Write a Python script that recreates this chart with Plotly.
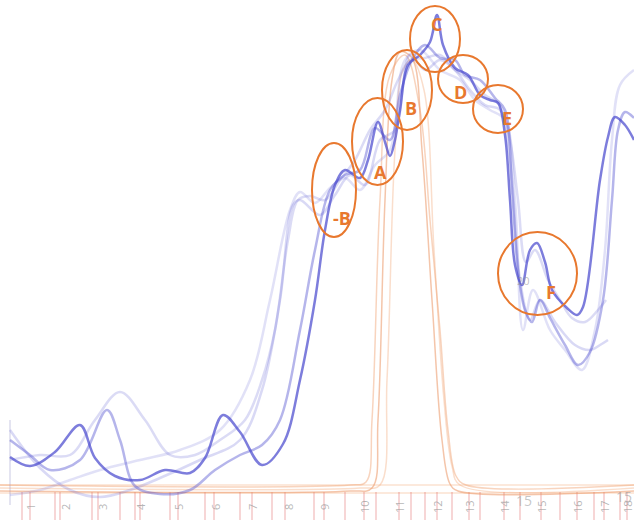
import plotly.graph_objects as go

# ---- data (x = retention position, y = signal depth from top; axis reversed) ----
dark_x = [10,30,55,80,95,115,140,165,190,205,223,240,262,283,300,315,325,335,345,360,368,378,385,390,395,400,408,420,430,437,443,455,468,480,490,498,505,510,515,522,530,537,545,552,567,577,583,600,608,615,625,634]
dark_y = [457,466,452,425,458,476,480,470,473,458,415,432,465,444,380,300,230,185,170,178,160,122,142,156,140,110,65,55,42,15,45,68,75,95,100,103,135,200,265,285,250,243,262,290,308,315,307,180,137,117,125,140]

med_x = [10,30,50,80,107,120,135,160,190,215,240,262,280,300,315,330,345,360,375,390,400,412,425,440,455,465,480,495,505,512,518,525,532,540,550,565,578,590,603,612,618,625,634]
med_y = [440,455,470,460,410,440,486,494,490,470,455,445,420,330,250,190,175,170,128,140,95,60,45,58,60,75,80,98,110,190,270,310,322,300,318,345,365,352,300,200,130,112,118]

l1_x = [10,40,70,100,140,180,220,250,270,290,300,315,330,345,360,375,390,405,420,440,460,475,490,505,515,523,533,550,565,582,595,605,612,620,634]
l1_y = [495,490,480,470,460,450,430,380,300,210,192,203,188,178,190,165,150,60,50,70,80,100,110,120,200,330,290,330,350,370,330,250,140,85,70]

l2_x = [10,40,70,100,130,160,200,240,262,280,293,300,320,335,350,365,380,395,410,425,440,455,470,485,500,510,520,530,540,555,575,590,600,608]
l2_y = [430,468,490,497,490,478,460,440,390,300,205,200,215,195,175,185,140,130,55,70,60,70,90,105,110,160,280,320,300,322,345,350,345,340]

l3_x = [10,40,70,95,120,145,170,195,220,245,262,275,288,298,310,325,340,355,370,385,398,410,425,440,455,470,485,500,510,518,526,535,548,560,572,585,598,606]
l3_y = [460,455,455,420,392,420,455,455,440,420,380,330,240,200,196,200,180,160,130,110,80,60,58,55,70,80,95,105,140,200,262,250,280,300,318,322,310,300]

or1_x = [0,350,372,378,385,392,400,412,422,432,442,450,458,634]
or1_y = [491,491,488,420,200,80,52,58,150,300,440,484,491,491]
or2_x = [0,350,366,372,380,390,405,420,430,440,448,456,466,634]
or2_y = [485,485,482,420,200,75,55,110,220,330,430,476,485,485]
or3_x = [0,360,380,387,395,403,412,424,434,444,452,460,634]
or3_y = [488,488,485,380,150,70,60,90,250,400,466,485,488]

tick_x = [22,30,55,60,92,98,120,135,140,170,178,205,214,240,252,272,285,314,324,345,364,376,399,411,425,437,452,469,480,504,520,541,560,577,594,604,620,627]
tick_labels = ["1","2","3","4","5","6","7","8","9","10","11","12","13","14","15","16","17","18"]
label_x = [30,65,102,140,178,215,252,288,324,364,399,437,469,504,541,577,604,627]

peak_names = ["-B","A","B","C","D","E","F"]
peak_x0 = [312,352,382,410,438,473,498]
peak_x1 = [356,403,432,460,488,523,577]
peak_y0 = [143,98,50,6,55,85,232]
peak_y1 = [237,185,130,72,103,133,315]
peak_lx = [342,380,411,436,460,507,551]
peak_ly = [218,172,108,24,92,118,292]

fig = go.Figure()

def add_line(x, y, color, width):
    fig.add_trace(go.Scatter(x=x, y=y, mode="lines", line=dict(color=color, width=width, shape="spline", smoothing=1.0), hoverinfo="skip", showlegend=False))

# baselines
add_line([0, 634], [485, 485], "rgba(240,170,120,0.35)", 1.5)
add_line([0, 634], [493, 493], "rgba(240,170,120,0.35)", 1.5)

# red tick marks
for tx in tick_x:
    fig.add_trace(go.Scatter(x=[tx, tx], y=[492, 520], mode="lines", line=dict(color="rgba(220,70,70,0.45)", width=1), hoverinfo="skip", showlegend=False))
fig.add_trace(go.Scatter(x=[10, 10], y=[420, 505], mode="lines", line=dict(color="rgba(150,150,200,0.5)", width=1), hoverinfo="skip", showlegend=False))

add_line(or3_x, or3_y, "rgba(240,160,110,0.35)", 1.5)
add_line(or2_x, or2_y, "rgba(240,160,110,0.45)", 1.5)
add_line(or1_x, or1_y, "rgba(235,150,100,0.55)", 1.5)

add_line(l1_x, l1_y, "rgba(120,120,220,0.22)", 2.5)
add_line(l2_x, l2_y, "rgba(120,120,220,0.28)", 2.5)
add_line(l3_x, l3_y, "rgba(110,110,215,0.25)", 2.5)
add_line(med_x, med_y, "rgba(90,90,210,0.45)", 2.5)
add_line(dark_x, dark_y, "rgba(70,70,205,0.7)", 2.5)

annotations = []
for lx, lab in zip(label_x, tick_labels):
    annotations.append(dict(x=lx, y=507, text=lab, showarrow=False, textangle=-90,
                            font=dict(family="Open Sans", size=11, color="rgba(150,150,150,0.7)")))
annotations.append(dict(x=524, y=500, text="15", showarrow=False, font=dict(family="Open Sans", size=14, color="rgba(160,160,160,0.6)")))
annotations.append(dict(x=624, y=496, text="15", showarrow=False, font=dict(family="Open Sans", size=14, color="rgba(160,160,160,0.6)")))
annotations.append(dict(x=523, y=280, text="20", showarrow=False, font=dict(family="Open Sans", size=11, color="rgba(150,150,150,0.6)")))

shapes = []
for name, x0, x1, y0, y1, lx, ly in zip(peak_names, peak_x0, peak_x1, peak_y0, peak_y1, peak_lx, peak_ly):
    shapes.append(dict(type="circle", xref="x", yref="y", x0=x0, x1=x1, y0=y0, y1=y1,
                       line=dict(color="#e8782e", width=2)))
    annotations.append(dict(x=lx, y=ly, text="<b>" + name + "</b>", showarrow=False,
                            font=dict(family="Open Sans", size=18, color="#e8782e")))

fig.update_layout(
    width=634, height=520, margin=dict(l=0, r=0, t=0, b=0),
    paper_bgcolor="white", plot_bgcolor="white",
    xaxis=dict(range=[0, 634], visible=False, fixedrange=True),
    yaxis=dict(range=[520, 0], visible=False, fixedrange=True),
    shapes=shapes, annotations=annotations,
)
fig.write_html("out.html", config={"displayModeBar": False},
               post_script="document.body.style.margin='0';document.body.style.padding='0';document.body.style.overflow='hidden';")
